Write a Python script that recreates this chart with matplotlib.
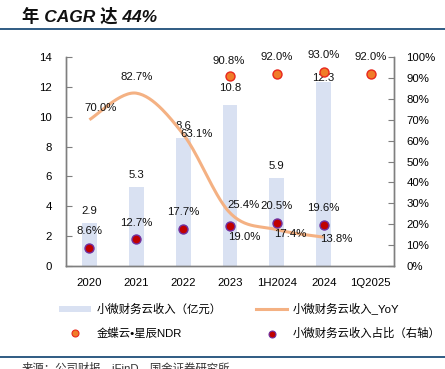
import matplotlib
matplotlib.use("Agg")
import matplotlib.pyplot as plt
import numpy as np
from matplotlib.lines import Line2D
from matplotlib.patches import Patch

plt.rcParams['font.family'] = ['Liberation Sans', 'Noto Sans CJK SC', 'DejaVu Sans']

categories = ['2020', '2021', '2022', '2023', '1H2024', '2024', '1Q2025']
revenue = [2.9, 5.3, 8.6, 10.8, 5.9, 12.3]          # 亿元, left axis
revenue_yoy = [70.0, 82.7, 63.1, 25.4, 17.4, 13.8]  # %, right axis
ndr_idx = [3, 4, 5, 6]
ndr = [90.8, 92.0, 93.0, 92.0]                      # %, right axis
share = [8.6, 12.7, 17.7, 19.0, 20.5, 19.6]         # %, right axis
left_ticks = [0, 2, 4, 6, 8, 10, 12, 14]
right_ticks = [0, 10, 20, 30, 40, 50, 60, 70, 80, 90, 100]

# label offsets in pixels (dx, dy)
rev_off = [(0, 12), (0, 12), (0, 12), (0, 17), (0, 12), (0, 4)]
yoy_off = [(11, 12), (0, 16), (13, 0), (13, 8), (13, -4), (13, -2)]
share_off = [(0, 17), (0, 16), (0, 17), (14, -11), (0, 17), (0, 17)]
ndr_off = [(-1, 15), (0, 17), (0, 17), (0, 17)]

W, H = 445, 369
fig = plt.figure(figsize=(W / 100, H / 100), dpi=100)
ax = fig.add_axes([66 / W, 1 - 266 / H, (394 - 66) / W, (266 - 57) / H])
ax2 = ax.twinx()

bar_color = '#D9E1F2'
line_color = '#F4B183'
fs = 8.2

x = np.arange(len(categories))
xr = x[:len(revenue)]
ax.bar(xr, revenue, width=0.32, color=bar_color, zorder=1)
ax.set_xlim(-0.5, len(categories) - 0.5)
ax.set_ylim(0, 14)
ax.set_yticks(left_ticks)
ax.set_xticks(x)
ax.set_xticklabels(categories)

# smooth (Catmull-Rom) curve through YoY points
def catmull(xs, ys, n=30):
    P = np.column_stack([xs, ys]).astype(float)
    P = np.vstack([P[0], P, P[-1]])
    out = []
    for i in range(1, len(P) - 2):
        p0, p1, p2, p3 = P[i - 1], P[i], P[i + 1], P[i + 2]
        c1 = p1 + (p2 - p0) / 6
        c2 = p2 - (p3 - p1) / 6
        t = np.linspace(0, 1, n)[:, None]
        seg = (1 - t) ** 3 * p1 + 3 * (1 - t) ** 2 * t * c1 + 3 * (1 - t) * t ** 2 * c2 + t ** 3 * p2
        out.append(seg if i == 1 else seg[1:])
    out = np.vstack(out)
    return out[:, 0], out[:, 1]

sx, sy = catmull(xr, revenue_yoy)
ax2.plot(sx, sy, color=line_color, lw=2.2, zorder=3, solid_capstyle='butt')
ax2.scatter([x[i] for i in ndr_idx], ndr, s=42, facecolor='#F07C28', edgecolor='#E8261C',
            linewidth=1.0, zorder=4)
ax2.scatter(xr, share, s=42, facecolor='#C00000', edgecolor='#7030A0', linewidth=1.0, zorder=4)
ax2.set_ylim(0, 100)
ax2.set_yticks(right_ticks)
ax2.set_yticklabels([f'{v}%' for v in right_ticks])

for xi, v, o in zip(xr, revenue, rev_off):
    ax.annotate(f'{v:.1f}', (xi, v), xytext=o, textcoords='offset pixels',
                ha='center', va='center', fontsize=fs, color='#111111', zorder=6)
for xi, v, o in zip(xr, revenue_yoy, yoy_off):
    ax2.annotate(f'{v:.1f}%', (xi, v), xytext=o, textcoords='offset pixels',
                 ha='center', va='center', fontsize=fs, color='#111111', zorder=6)
for xi, v, o in zip(xr, share, share_off):
    ax2.annotate(f'{v:.1f}%', (xi, v), xytext=o, textcoords='offset pixels',
                 ha='center', va='center', fontsize=fs, color='#111111', zorder=6)
for i, v, o in zip(ndr_idx, ndr, ndr_off):
    ax2.annotate(f'{v:.1f}%', (x[i], v), xytext=o, textcoords='offset pixels',
                 ha='center', va='center', fontsize=fs, color='#111111', zorder=6)

spine_c = '#7F7F7F'
for a in (ax, ax2):
    for s in a.spines.values():
        s.set_color(spine_c)
        s.set_linewidth(1.0)
    a.spines['top'].set_visible(False)
ax.tick_params(axis='y', direction='in', length=4, color=spine_c, labelsize=fs, pad=10)
ax.tick_params(axis='x', length=0, labelsize=fs, pad=9)
ax2.tick_params(axis='y', direction='in', length=4, color=spine_c, labelsize=fs, pad=9)

handles = [
    Patch(facecolor=bar_color, edgecolor='none'),
    Line2D([], [], color=line_color, lw=2.2),
    Line2D([], [], marker='o', ls='none', markersize=5, markerfacecolor='#F07C28',
           markeredgecolor='#E8261C', markeredgewidth=0.8),
    Line2D([], [], marker='o', ls='none', markersize=5, markerfacecolor='#C00000',
           markeredgecolor='#7030A0', markeredgewidth=0.8),
]
labels = ['小微财务云收入（亿元）', '金蝶云•星辰NDR', '小微财务云收入_YoY', '小微财务云收入占比（右轴）']
handles = [handles[0], handles[2], handles[1], handles[3]]
leg = fig.legend(handles, labels, ncol=2, loc='upper left', bbox_to_anchor=(53 / W, 1 - 297 / H),
                 frameon=False, fontsize=fs, handlelength=2.8, handleheight=0.45,
                 handletextpad=0.5, columnspacing=3.0, labelspacing=1.15, borderpad=0)

fig.text(22 / W, 1 - 16 / H, '年 CAGR 达 44%', fontsize=12.5, fontweight='bold', fontstyle='italic',
         ha='left', va='center', color='#111111')
fig.add_artist(Line2D([0, 1], [1 - 29 / H, 1 - 29 / H], color='#1F4E79', lw=1.3))
fig.add_artist(Line2D([0, 1], [1 - 357 / H, 1 - 357 / H], color='#1F4E79', lw=1.3))
fig.text(22 / W, 1 - 362 / H, '来源：公司财报，iFinD，国金证券研究所', fontsize=fs,
         ha='left', va='top', color='#333333')

fig.savefig('out.png', dpi=100)
